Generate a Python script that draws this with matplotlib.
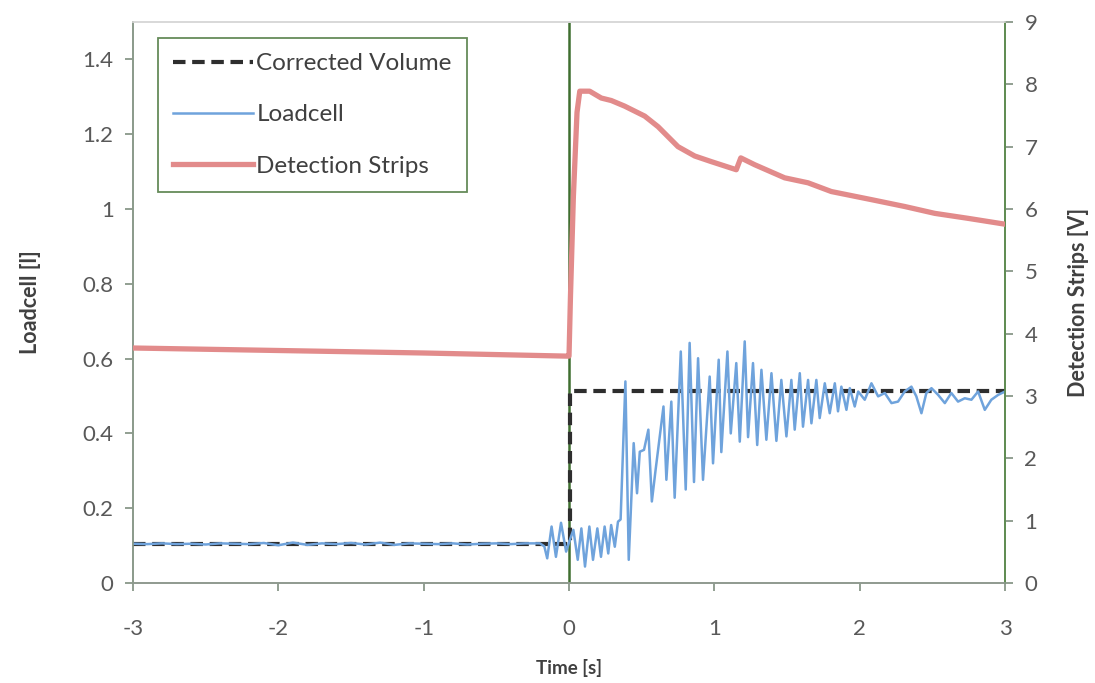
import matplotlib
matplotlib.use("Agg")
import matplotlib.pyplot as plt
from matplotlib.lines import Line2D

plt.rcParams['font.family'] = ['Lato', 'DejaVu Sans']

# ---------------- data ----------------
# Corrected volume [l]
cv_t = [-3.0, 0.01, 0.01, 3.0]
cv_v = [0.105, 0.105, 0.513, 0.513]

# Loadcell [l]
lc_t = [-3.0, -2.9, -2.8, -2.7, -2.6, -2.5, -2.4, -2.3, -2.2, -2.1,
        -2.0, -1.9, -1.8, -1.7, -1.6, -1.5, -1.4, -1.3, -1.2, -1.1,
        -1.0, -0.9, -0.8, -0.7, -0.6, -0.5, -0.4, -0.3, -0.2,
        -0.17, -0.15, -0.12, -0.09, -0.055, -0.02, 0.01, 0.03, 0.06, 0.085,
        0.11, 0.14, 0.165, 0.195, 0.22, 0.245, 0.27, 0.29, 0.315, 0.337,
        0.355, 0.388, 0.411, 0.445, 0.468, 0.487, 0.516, 0.546, 0.570, 0.595,
        0.650, 0.670, 0.704, 0.727, 0.769, 0.803, 0.830, 0.860, 0.888, 0.922,
        0.968, 0.991, 1.030, 1.048, 1.090, 1.113, 1.151, 1.175, 1.209, 1.232,
        1.266, 1.295, 1.324, 1.358, 1.393, 1.427, 1.461, 1.496, 1.530, 1.553,
        1.588, 1.610, 1.645, 1.668, 1.702, 1.725, 1.760, 1.794, 1.829, 1.851,
        1.874, 1.909, 1.932, 1.966, 1.990, 2.035, 2.081, 2.127, 2.173, 2.219,
        2.264, 2.310, 2.356, 2.390, 2.425, 2.459, 2.494, 2.540, 2.586, 2.631,
        2.677, 2.723, 2.769, 2.815, 2.861, 2.906, 2.953, 3.0]
lc_v = [0.105, 0.104, 0.106, 0.104, 0.105, 0.103, 0.106, 0.105, 0.104, 0.107,
        0.101, 0.108, 0.102, 0.106, 0.104, 0.107, 0.103, 0.108, 0.102, 0.106,
        0.105, 0.104, 0.106, 0.103, 0.105, 0.106, 0.104, 0.106, 0.106,
        0.098, 0.066, 0.151, 0.070, 0.161, 0.084, 0.120, 0.142, 0.062, 0.146,
        0.044, 0.151, 0.062, 0.146, 0.070, 0.151, 0.079, 0.155, 0.097, 0.164,
        0.170, 0.539, 0.062, 0.374, 0.240, 0.351, 0.356, 0.410, 0.218, 0.300,
        0.472, 0.276, 0.485, 0.228, 0.619, 0.250, 0.642, 0.270, 0.601, 0.276,
        0.552, 0.320, 0.597, 0.350, 0.619, 0.400, 0.588, 0.378, 0.646, 0.390,
        0.588, 0.369, 0.570, 0.383, 0.561, 0.380, 0.543, 0.392, 0.543, 0.410,
        0.561, 0.418, 0.543, 0.427, 0.543, 0.441, 0.534, 0.454, 0.534, 0.459,
        0.525, 0.463, 0.521, 0.472, 0.512, 0.490, 0.534, 0.499, 0.508, 0.481,
        0.485, 0.512, 0.525, 0.499, 0.454, 0.508, 0.521, 0.503, 0.481, 0.508,
        0.485, 0.494, 0.490, 0.512, 0.463, 0.490, 0.503, 0.512]

# Detection strips [V]
ds_t = [-3.0, -2.0, -1.0, -0.02, 0.0, 0.01, 0.03, 0.055, 0.074, 0.142,
        0.222, 0.291, 0.383, 0.521, 0.613, 0.750, 0.865, 0.979, 1.151, 1.182,
        1.278, 1.484, 1.645, 1.805, 2.081, 2.310, 2.517, 2.746, 2.99]
ds_v = [3.77, 3.73, 3.69, 3.64, 3.64, 4.60, 6.20, 7.55, 7.89, 7.89,
        7.78, 7.74, 7.65, 7.49, 7.32, 7.00, 6.85, 6.76, 6.63, 6.82,
        6.71, 6.50, 6.42, 6.28, 6.15, 6.04, 5.93, 5.85, 5.76]

x_ticks = [-3, -2, -1, 0, 1, 2, 3]
yl_ticks = [0, 0.2, 0.4, 0.6, 0.8, 1.0, 1.2, 1.4]
yl_labels = ['0', '0.2', '0.4', '0.6', '0.8', '1', '1.2', '1.4']
yr_ticks = list(range(0, 10))

# ---------------- style ----------------
c_blue = '#6fa3dc'
c_pink = '#e28b8b'
c_dash = '#2e2e2e'
c_green = '#3f6e30'
c_text = '#404040'
c_tick = '#595959'

fig = plt.figure(figsize=(10.95, 6.83), dpi=100)
ax = fig.add_axes([0.1215, 0.1464, 0.7963, 0.8214])
ax2 = ax.twinx()

ax.plot(lc_t, lc_v, color=c_blue, lw=1.8, zorder=4, label='Loadcell')
ax.plot(cv_t, cv_v, color=c_dash, lw=3.0, dashes=(3.0, 1.6), zorder=3,
        label='Corrected Volume')
ax.axvline(0, color=c_green, lw=1.8, zorder=2)

ax2.plot(ds_t, ds_v, color=c_pink, lw=3.8, zorder=3, label='Detection Strips')

ax.set_xlim(-3, 3)
ax.set_ylim(0, 1.5)
ax2.set_ylim(0, 9)
ax.set_xticks(x_ticks)
ax.set_xticklabels([str(v) for v in x_ticks])
ax.set_yticks(yl_ticks)
ax.set_yticklabels(yl_labels)
ax2.set_yticks(yr_ticks)

for a in (ax, ax2):
    a.tick_params(axis='both', direction='out', length=6, width=1.2,
                  colors='#7f8f7f', labelcolor=c_tick, labelsize=16)
ax.tick_params(axis='x', pad=20)
ax.tick_params(axis='y', pad=8)
ax2.tick_params(axis='y', pad=8)

for a in (ax, ax2):
    a.spines['left'].set_color('#8a9a8a')
    a.spines['bottom'].set_color('#8f9a8f')
    a.spines['right'].set_color('#5d8a50')
    a.spines['top'].set_color('#d8d8d8')
    for s in a.spines.values():
        s.set_linewidth(1.2)

ax.set_xlabel('Time [s]', fontsize=13.5, fontweight='bold', color=c_text, labelpad=14)
ax.set_ylabel('Loadcell [l]', fontsize=15.5, fontweight='bold', color=c_text, labelpad=30)
ax2.set_ylabel('Detection Strips [V]', fontsize=15.5, fontweight='bold', color=c_text,
               labelpad=22, rotation=90)

handles = [Line2D([0], [0], color=c_dash, lw=3.0, dashes=(3.0, 1.6)),
           Line2D([0], [0], color=c_blue, lw=1.8),
           Line2D([0], [0], color=c_pink, lw=3.8)]
labels = ['Corrected Volume', 'Loadcell', 'Detection Strips']
leg = ax2.legend(handles, labels, loc='upper left', bbox_to_anchor=(0.0287, 0.9715),
                 fontsize=17.5, frameon=True, fancybox=False, handlelength=3.3,
                 handletextpad=0.12, labelspacing=1.25, borderpad=0.62,
                 borderaxespad=0.0, labelcolor=c_text)
leg.get_frame().set_edgecolor(c_green)
leg.get_frame().set_linewidth(1.3)

fig.savefig('out.png', dpi=100)
